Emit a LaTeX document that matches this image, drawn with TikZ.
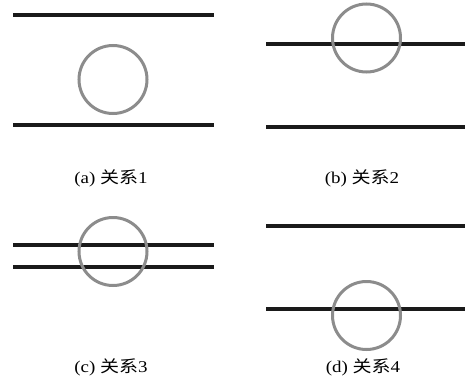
\documentclass[tikz,border=0pt]{standalone}
\usepackage{fontspec}
\setmainfont[FakeStretch=1.15]{Liberation Serif}
\newfontfamily\cjk[FakeStretch=1.15]{Noto Sans CJK SC}
\definecolor{ringgray}{HTML}{8C8C8C}
\definecolor{linedark}{HTML}{1A1A1A}
\tikzset{
  bar/.style={draw=linedark, line width=3.3pt},
  ring/.style={draw=ringgray, line width=3pt},
  captext/.style={anchor=base, font=\fontsize{16.5}{18}\selectfont, inner sep=0pt}
}
\begin{document}
\begin{tikzpicture}[x=1pt,y=-1pt]
\useasboundingbox (0,0) rectangle (465,380);
% (a)
\draw[bar] (13,15) -- (214,15);
\draw[bar] (13,125) -- (214,125);
\draw[ring] (113,79.5) circle (34);
\node[captext] (la) at (111,183) {(a) {\cjk 关系}1};
% (b)
\draw[bar] (266,44) -- (465,44);
\draw[bar] (266,127) -- (465,127);
\draw[ring] (366.5,38) circle (34);
\node[captext] (lb) at (362,183) {(b) {\cjk 关系}2};
% (c)
\draw[bar] (13,245) -- (214,245);
\draw[bar] (13,267) -- (214,267);
\draw[ring] (113,251.5) circle (34);
\node[captext] (lc) at (111,372) {(c) {\cjk 关系}3};
% (d)
\draw[bar] (266,226) -- (465,226);
\draw[bar] (266,309) -- (465,309);
\draw[ring] (366.5,315.5) circle (34);
\node[captext] (ld) at (363,372) {(d) {\cjk 关系}4};
\end{tikzpicture}
\end{document}
